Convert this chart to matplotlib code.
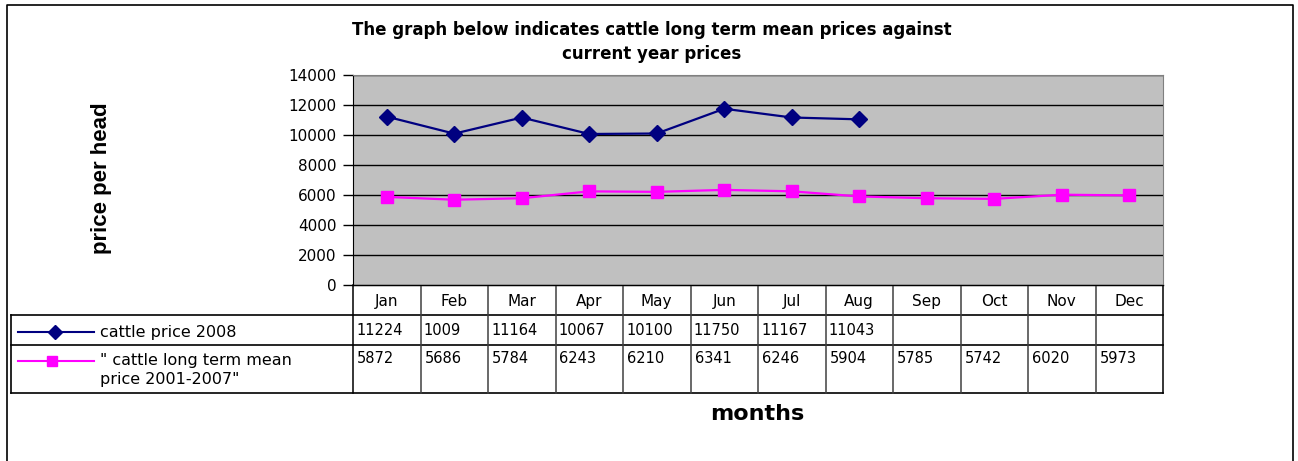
import matplotlib
matplotlib.use("Agg")
import matplotlib.pyplot as plt
from matplotlib.lines import Line2D

months = ["Jan", "Feb", "Mar", "Apr", "May", "Jun", "Jul", "Aug", "Sep", "Oct", "Nov", "Dec"]
price_2008 = [11224, 10090, 11164, 10067, 10100, 11750, 11167, 11043]
price_2008_table = ["11224", "1009", "11164", "10067", "10100", "11750", "11167", "11043", "", "", "", ""]
long_term = [5872, 5686, 5784, 6243, 6210, 6341, 6246, 5904, 5785, 5742, 6020, 5973]
long_term_table = ["5872", "5686", "5784", "6243", "6210", "6341", "6246", "5904", "5785", "5742", "6020", "5973"]
yticks = [0, 2000, 4000, 6000, 8000, 10000, 12000, 14000]
series_names = ["cattle price 2008", "\" cattle long term mean\nprice 2001-2007\""]
title = "The graph below indicates cattle long term mean prices against\ncurrent year prices"

W, H = 1298, 461
fig = plt.figure(figsize=(W / 100, H / 100), dpi=100)
plt.rcParams['font.family'] = ['DejaVu Sans']

# overlay in pixel coordinates
ov = fig.add_axes([0, 0, 1, 1], zorder=0)
ov.set_xlim(0, W)
ov.set_ylim(H, 0)
ov.axis("off")

L, R, T, B = 353, 1163, 75, 285
ax = fig.add_axes([L / W, (H - B) / H, (R - L) / W, (B - T) / H], zorder=2)
ax.set_facecolor("#C0C0C0")
x = list(range(len(months)))
ax.plot(x[:len(price_2008)], price_2008, color="#000080", lw=1.6, marker="D", ms=8,
        markerfacecolor="#000080", markeredgecolor="#000080")
ax.plot(x, long_term, color="#FF00FF", lw=1.6, marker="s", ms=9,
        markerfacecolor="#FF00FF", markeredgecolor="#FF00FF")
ax.set_xlim(-0.5, 11.5)
ax.set_ylim(0, 14000)
ax.set_yticks(yticks)
ax.set_yticklabels([str(v) for v in yticks], fontsize=11)
ax.yaxis.grid(True, color="black", lw=1)
ax.set_axisbelow(True)
ax.set_xticks([])
ax.tick_params(axis="y", direction="out", length=7, width=1, pad=5)
for s in ["top", "right"]:
    ax.spines[s].set_color("#808080")
ax.spines["left"].set_color("black")
ax.spines["bottom"].set_color("black")

# outer border
ov.plot([7, 7, 1293, 1293], [461, 5, 5, 461], color="black", lw=1.2)

# title
ov.text(652, 42, title, ha="center", va="center", fontsize=12, fontweight="bold",
        linespacing=1.45)

# y label
ov.text(101, 178, "price per head", rotation=90, ha="center", va="center",
        fontsize=16, fontweight="bold", family=["Liberation Sans"])

# months label
ov.text(757, 414, "months", ha="center", va="center", fontsize=16, fontweight="bold")

# table
cw = (R - L) / 12
y0, y1, y2, y3 = B, 315, 345, 393
lc = "black"
ov.plot([L, R], [y0, y0], color=lc, lw=1)
ov.plot([11, R], [y1, y1], color=lc, lw=1.2)
ov.plot([11, R], [y2, y2], color=lc, lw=1.2)
ov.plot([11, R], [y3, y3], color=lc, lw=1.2)
ov.plot([11, 11], [y1, y3], color=lc, lw=1.2)
for i in range(13):
    xx = L + i * cw
    ov.plot([xx, xx], [y0, y3], color="#404040" if 0 < i < 12 else lc, lw=1.1)
for i, m in enumerate(months):
    cx = L + (i + 0.5) * cw
    ov.text(cx, (y0 + y1) / 2 + 1, m, ha="center", va="center", fontsize=11)
    ov.text(L + i * cw + 3, (y1 + y2) / 2, price_2008_table[i], ha="left", va="center", fontsize=10.5)
    ov.text(L + i * cw + 4, 358, long_term_table[i], ha="left", va="center", fontsize=10.5)

# legend keys
ov.add_line(Line2D([18, 94], [332, 332], color="#000080", lw=1.5))
ov.add_line(Line2D([55], [332], color="#000080", marker="D", ms=7, markeredgecolor="#000080"))
ov.add_line(Line2D([18, 94], [361, 361], color="#FF00FF", lw=1.5))
ov.add_line(Line2D([52], [361], color="#FF00FF", marker="s", ms=7, markeredgecolor="#FF00FF"))
ov.text(100, 332, series_names[0], ha="left", va="center", fontsize=11.5)
ov.text(100, 370, series_names[1], ha="left", va="center", fontsize=11.5, linespacing=1.3)

fig.savefig("out.png", dpi=100)
